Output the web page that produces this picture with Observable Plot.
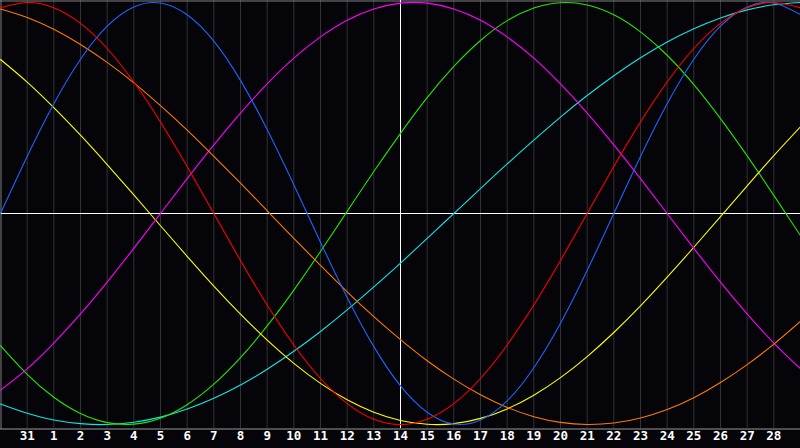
<!DOCTYPE html>
<html>
<head>
<meta charset="utf-8">
<script src="https://cdn.jsdelivr.net/npm/d3@7"></script>
<script src="https://cdn.jsdelivr.net/npm/@observablehq/plot@0.6"></script>
<style>
  html, body { margin: 0; padding: 0; background: #050408; }
  #chart svg { display: block; }
</style>
</head>
<body>
<div id="chart"></div>
<script>
// Position index 0..30 (left edge = day 30 of previous month, right edge = day 29)
const positions = d3.range(0, 31);
// Day tick labels at positions 1..29
const tickPositions = d3.range(1, 30);
const tickLabels = ["31","1","2","3","4","5","6","7","8","9","10","11","12","13","14","15","16","17","18","19","20","21","22","23","24","25","26","27","28"];

// Series values (−1 … 1) at each position 0..30
const red = [0.975,1,0.975,0.901,0.782,0.623,0.434,0.223,0,-0.223,-0.434,-0.623,-0.782,-0.901,-0.975,-1,-0.975,-0.901,-0.782,-0.623,-0.434,-0.223,0,0.223,0.434,0.623,0.782,0.901,0.975,1,0.975];
const blue = [0,0.270,0.520,0.731,0.888,0.979,0.998,0.942,0.817,0.631,0.398,0.136,-0.136,-0.398,-0.631,-0.817,-0.942,-0.998,-0.979,-0.888,-0.731,-0.520,-0.270,0,0.270,0.520,0.731,0.888,0.979,0.998,0.942];
const magenta = [-0.837,-0.736,-0.614,-0.476,-0.325,-0.165,0,0.165,0.325,0.476,0.614,0.736,0.837,0.916,0.969,0.997,0.997,0.969,0.916,0.837,0.736,0.614,0.476,0.325,0.165,0,-0.165,-0.325,-0.476,-0.614,-0.736];
const green = [-0.626,-0.762,-0.871,-0.948,-0.991,-0.998,-0.970,-0.906,-0.809,-0.683,-0.533,-0.363,-0.180,0.010,0.199,0.380,0.549,0.697,0.820,0.914,0.974,0.999,0.988,0.942,0.861,0.750,0.611,0.450,0.273,0.086,-0.105];
const cyan = [-0.903,-0.947,-0.979,-0.996,-1.000,-0.989,-0.965,-0.927,-0.876,-0.813,-0.738,-0.653,-0.559,-0.457,-0.348,-0.235,-0.118,0,0.118,0.235,0.348,0.457,0.559,0.653,0.738,0.813,0.876,0.927,0.965,0.989,1.000];
const yellow = [0.730,0.623,0.502,0.371,0.232,0.088,-0.058,-0.203,-0.344,-0.477,-0.600,-0.710,-0.805,-0.883,-0.942,-0.981,-0.999,-0.996,-0.971,-0.926,-0.861,-0.778,-0.678,-0.564,-0.438,-0.302,-0.160,-0.015,0.131,0.274,0.411];
const orange = [0.969,0.929,0.873,0.801,0.716,0.619,0.511,0.395,0.271,0.144,0.013,-0.118,-0.246,-0.371,-0.489,-0.598,-0.698,-0.785,-0.859,-0.919,-0.963,-0.990,-1.000,-0.993,-0.969,-0.929,-0.873,-0.801,-0.716,-0.619,-0.511];

const seriesList = [
  {name: "cyan", values: cyan, color: "#11e6e6"},
  {name: "green", values: green, color: "#22e600"},
  {name: "yellow", values: yellow, color: "#ffff00"},
  {name: "magenta", values: magenta, color: "#ff00ff"},
  {name: "orange", values: orange, color: "#ff7a00"},
  {name: "blue", values: blue, color: "#1a66ff"},
  {name: "red", values: red, color: "#ff0000"}
];

const rows = seriesList.flatMap(s => positions.map((p, i) => ({series: s.name, x: p, y: s.values[i], color: s.color})));
const ticks = tickPositions.map((p, i) => ({x: p, label: tickLabels[i]}));

const chart = Plot.plot({
  width: 800,
  height: 448,
  marginLeft: 0,
  marginRight: 0,
  marginTop: 2,
  marginBottom: 24,
  style: {background: "#050408", overflow: "visible"},
  x: {domain: [0, 30], axis: null},
  y: {domain: [-1, 1], axis: null},
  marks: [
    Plot.ruleX(tickPositions.filter(p => p !== 15), {stroke: "#333333", strokeWidth: 1, insetTop: -2, insetBottom: -4}),
    Plot.frame({anchor: "top", stroke: "#808080", insetTop: -1.5}),
    Plot.frame({anchor: "bottom", stroke: "#9a9a9a", insetBottom: -4.5}),
    Plot.frame({anchor: "left", stroke: "#808080", insetLeft: 0.5, insetTop: -2, insetBottom: -4}),
    Plot.ruleX([15], {stroke: "#ffffff", strokeWidth: 1, insetTop: -2, insetBottom: -4}),
    Plot.ruleY([0], {stroke: "#ffffff", strokeWidth: 1}),
    ...seriesList.map(s => Plot.line(rows.filter(r => r.series === s.name), {x: "x", y: "y", stroke: s.color, strokeWidth: 1.1, curve: "natural"})),
    Plot.text(ticks, {x: "x", text: "label", frameAnchor: "bottom", dy: 15.5, fill: "#ffffff", fontSize: 12.5, fontWeight: "bold", fontFamily: "DejaVu Sans Mono"})
  ]
});
document.getElementById("chart").appendChild(chart);
</script>
</body>
</html>
